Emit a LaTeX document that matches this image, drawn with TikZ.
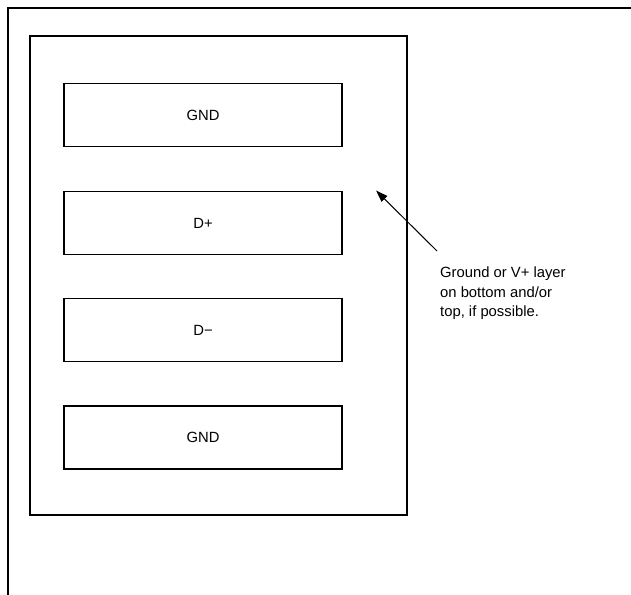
\documentclass[tikz,border=0pt]{standalone}
\usepackage{fontspec}
\setmainfont{Liberation Sans}
\usetikzlibrary{arrows.meta}
\begin{document}
\begin{tikzpicture}[x=1pt,y=-1pt,
  frame/.style={line width=1.8pt},
  signalbox/.style={draw,line width=1.8pt,minimum width=278pt,minimum height=63pt,inner sep=0pt,font=\fontsize{14.8}{17}\selectfont},
  pointer/.style={line width=1pt,-{Triangle[length=12pt,width=8pt]}},
  note/.style={align=left,inner sep=0pt,anchor=north west,font=\fontsize{14.8}{19.5}\selectfont}]
\useasboundingbox (0,0) rectangle (631,594);
% outer board edge
\coordinate (oTR) at (632,8);
\coordinate (oTL) at (8,8);
\coordinate (oBL) at (8,595);
\draw[frame] (oTR) -- (oTL) -- (oBL);
% inner region
\node[draw,line width=1.8pt,minimum width=377pt,minimum height=479pt,inner sep=0pt] (region) at (218.5,275.5) {};
% traces
\node[signalbox] (gnd1) at (203,115) {GND};
\node[signalbox] (dp) at (203,223) {D+};
\node[signalbox] (dm) at (203,330) {D\textminus};
\node[signalbox] (gnd2) at (203,437.5) {GND};
% note
\node[note] (txt) at (440,267) {Ground or V+ layer\\on bottom and/or\\top, if possible.};
\coordinate (tail) at (437,251);
\coordinate (tip) at (376,190.5);
\draw[pointer] (tail) -- (tip);
\end{tikzpicture}
\end{document}
